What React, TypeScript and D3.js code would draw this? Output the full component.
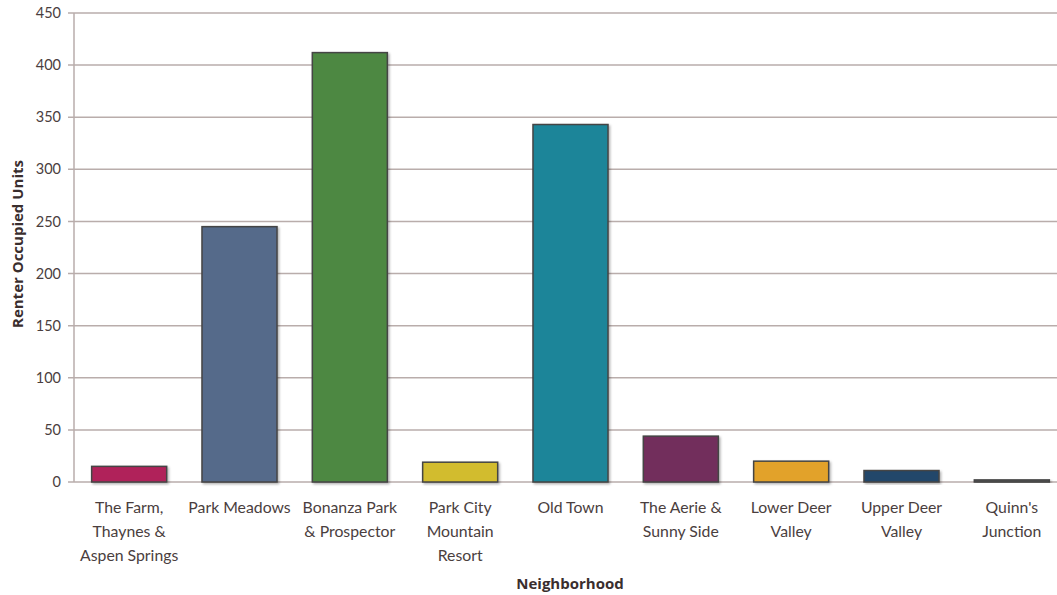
import React from "react";
import * as d3 from "d3";

const categories: string[][] = [
  ["The Farm,", "Thaynes &", "Aspen Springs"],
  ["Park Meadows"],
  ["Bonanza Park", "& Prospector"],
  ["Park City", "Mountain", "Resort"],
  ["Old Town"],
  ["The Aerie &", "Sunny Side"],
  ["Lower Deer", "Valley"],
  ["Upper Deer", "Valley"],
  ["Quinn's", "Junction"],
];
const values: number[] = [15, 245, 412, 19, 343, 44, 20, 11, 2];
const colors: string[] = ["#b0245a", "#546a8a", "#4e8843", "#d2bc2e", "#1a8599", "#722f5b", "#e2a22a", "#24476a", "#555555"];
const yTicks: number[] = [0, 50, 100, 150, 200, 250, 300, 350, 400, 450];

const W = 1057;
const H = 595;
const left = 74;
const right = 1067;
const top = 13;
const bottom = 482;
const textColor = "#4a3e3e";
const gridColor = "#b9adab";
const font = "Lato, 'Open Sans', sans-serif";
const titleFont = "'Open Sans', Lato, sans-serif";

export default function App() {
  const x = d3
    .scaleBand<number>()
    .domain(values.map((_, i) => i))
    .range([left, right])
    .paddingInner(0.32)
    .paddingOuter(0.16);
  const y = d3.scaleLinear().domain([0, 450]).range([bottom, top]);

  return (
    <svg
      width={W}
      height={H}
      style={{ position: "absolute", left: 0, top: 0, background: "#fff" }}
      fontFamily={font}
    >
      <defs>
        <filter id="sh" x="-10%" y="-10%" width="130%" height="130%">
          <feDropShadow dx="1.5" dy="1.5" stdDeviation="1.2" floodColor="#000" floodOpacity="0.3" />
        </filter>
      </defs>
      {yTicks.map((t) => (
        <g key={t}>
          <line x1={68} x2={W} y1={y(t)} y2={y(t)} stroke={gridColor} strokeWidth={1.5} />
          <text
            x={61}
            y={y(t)}
            dy="0.35em"
            textAnchor="end"
            fontSize={14.5}
            fill={textColor}
          >
            {t}
          </text>
        </g>
      ))}
      <line x1={left} x2={left} y1={top} y2={bottom} stroke={gridColor} strokeWidth={1.5} />
      {values.map((v, i) => {
        const bx = x(i)!;
        const bw = x.bandwidth();
        const h = Math.max(bottom - y(v), 1.5);
        return (
          <rect
            key={i}
            x={bx}
            y={bottom - h}
            width={bw}
            height={h}
            fill={colors[i]}
            stroke="#444"
            strokeWidth={1.5}
            filter="url(#sh)"
          />
        );
      })}
      {categories.map((lines, i) => (
        <text
          key={i}
          x={x(i)! + x.bandwidth() / 2}
          y={513}
          textAnchor="middle"
          fontSize={15.8}
          fill={textColor}
        >
          {lines.map((l, j) => (
            <tspan key={j} x={x(i)! + x.bandwidth() / 2} dy={j === 0 ? 0 : 24}>
              {l}
            </tspan>
          ))}
        </text>
      ))}
      <text
        x={570}
        y={589}
        textAnchor="middle"
        fontSize={15}
        fontWeight="bold"
        fontFamily={titleFont}
        fill="#3a2e2e"
      >
        Neighborhood
      </text>
      <text
        transform={`translate(23, 244) rotate(-90)`}
        textAnchor="middle"
        fontSize={15}
        fontWeight="bold"
        fontFamily={titleFont}
        fill="#3a2e2e"
      >
        Renter Occupied Units
      </text>
    </svg>
  );
}
